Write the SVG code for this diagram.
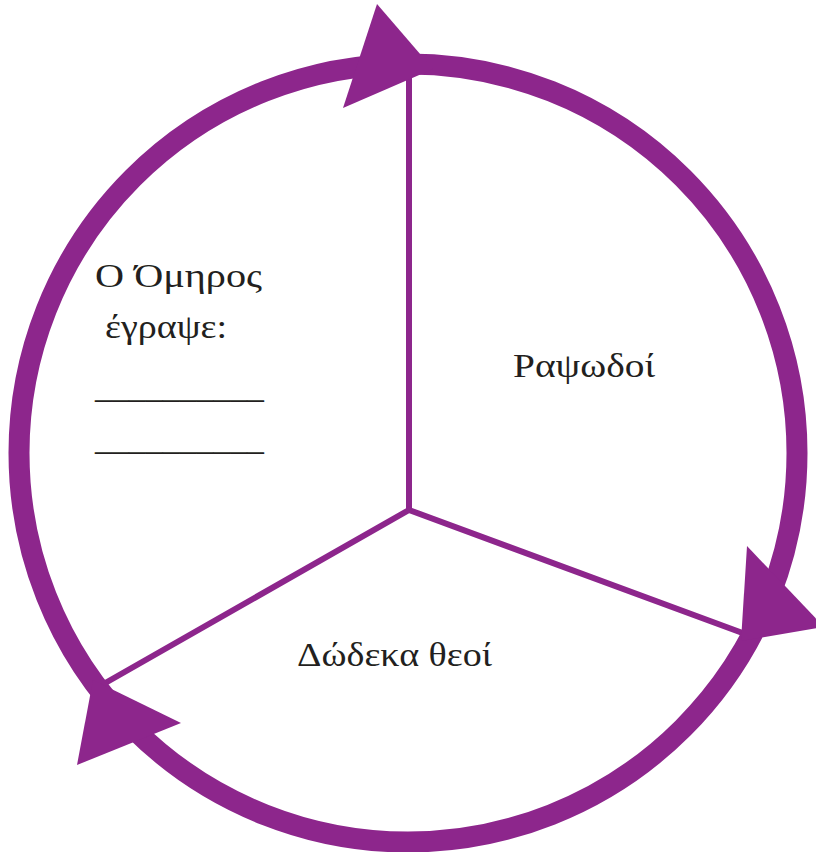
<svg xmlns="http://www.w3.org/2000/svg" width="816" height="852" viewBox="0 0 816 852">
<style>
.spoke{stroke:#8D268C;stroke-width:6;fill:none;stroke-linecap:round}
.ring{stroke:#8D268C;stroke-width:21;fill:none}
.head{fill:#8D268C}
.lbl{font-family:"Liberation Serif","DejaVu Serif",serif;font-size:34px;fill:#231F20}
</style>
<rect width="816" height="852" fill="#fff"/>
<g id="connectors">
<line class="spoke" x1="409" y1="70" x2="409" y2="510"/>
<line class="spoke" x1="409" y1="510" x2="748" y2="635"/>
<line class="spoke" x1="409" y1="510" x2="100" y2="686"/>
<circle class="ring" cx="408" cy="453" r="389"/>
<polygon class="head" points="377,4 433,69 343,108"/>
<polygon class="head" points="747,546 824,627 741,641"/>
<polygon class="head" points="93,680 181,723 77,765"/>
</g>
<g id="node-homer">
<text class="lbl" x="95" y="287" textLength="167" lengthAdjust="spacingAndGlyphs">Ο Όμηρος</text>
<text class="lbl" x="105" y="338" textLength="122" lengthAdjust="spacingAndGlyphs">έγραψε:</text>
<text class="lbl" x="95" y="398" textLength="169" lengthAdjust="spacingAndGlyphs">__________</text>
<text class="lbl" x="95" y="450" textLength="169" lengthAdjust="spacingAndGlyphs">__________</text>
</g>
<g id="node-rhapsodes">
<text class="lbl" x="513" y="377" textLength="142" lengthAdjust="spacingAndGlyphs">Ραψωδοί</text>
</g>
<g id="node-gods">
<text class="lbl" x="297" y="666" textLength="195" lengthAdjust="spacingAndGlyphs">Δώδεκα θεοί</text>
</g>
</svg>
